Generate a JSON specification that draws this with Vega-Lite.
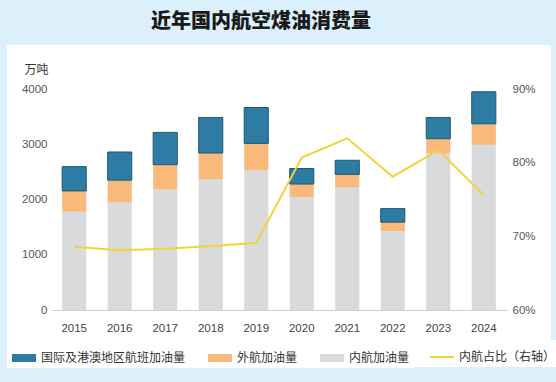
{
  "$schema": "https://vega.github.io/schema/vega-lite/v6.json",
  "width": 456,
  "height": 221,
  "autosize": {"type": "none"},
  "padding": {"left": 51, "top": 89, "right": 49, "bottom": 72},
  "background": "#dbf0fa",
  "title": {
    "text": "近年国内航空煤油消费量",
    "font": "Noto Sans CJK SC",
    "fontSize": 20,
    "fontWeight": 900,
    "color": "#1a1a1a",
    "anchor": "middle",
    "frame": "group",
    "dx": -18,
    "dy": -23,
    "offset": 8
  },
  "datasets": {
    "bars": [
      {"year": "2015", "series": "内航加油量", "value": 1780},
      {"year": "2015", "series": "外航加油量", "value": 375},
      {"year": "2015", "series": "国际及港澳地区航班加油量", "value": 440},
      {"year": "2016", "series": "内航加油量", "value": 1945},
      {"year": "2016", "series": "外航加油量", "value": 405},
      {"year": "2016", "series": "国际及港澳地区航班加油量", "value": 510},
      {"year": "2017", "series": "内航加油量", "value": 2180},
      {"year": "2017", "series": "外航加油量", "value": 450},
      {"year": "2017", "series": "国际及港澳地区航班加油量", "value": 585},
      {"year": "2018", "series": "内航加油量", "value": 2365},
      {"year": "2018", "series": "外航加油量", "value": 475},
      {"year": "2018", "series": "国际及港澳地区航班加油量", "value": 645},
      {"year": "2019", "series": "内航加油量", "value": 2530},
      {"year": "2019", "series": "外航加油量", "value": 485},
      {"year": "2019", "series": "国际及港澳地区航班加油量", "value": 650},
      {"year": "2020", "series": "内航加油量", "value": 2045},
      {"year": "2020", "series": "外航加油量", "value": 235},
      {"year": "2020", "series": "国际及港澳地区航班加油量", "value": 280},
      {"year": "2021", "series": "内航加油量", "value": 2225},
      {"year": "2021", "series": "外航加油量", "value": 230},
      {"year": "2021", "series": "国际及港澳地区航班加油量", "value": 255},
      {"year": "2022", "series": "内航加油量", "value": 1425},
      {"year": "2022", "series": "外航加油量", "value": 165},
      {"year": "2022", "series": "国际及港澳地区航班加油量", "value": 245},
      {"year": "2023", "series": "内航加油量", "value": 2840},
      {"year": "2023", "series": "外航加油量", "value": 260},
      {"year": "2023", "series": "国际及港澳地区航班加油量", "value": 385},
      {"year": "2024", "series": "内航加油量", "value": 2990},
      {"year": "2024", "series": "外航加油量", "value": 380},
      {"year": "2024", "series": "国际及港澳地区航班加油量", "value": 580}
    ],
    "share": [
      {"year": "2015", "pct": 68.6},
      {"year": "2016", "pct": 68.1},
      {"year": "2017", "pct": 68.3},
      {"year": "2018", "pct": 68.7},
      {"year": "2019", "pct": 69.1},
      {"year": "2020", "pct": 80.7},
      {"year": "2021", "pct": 83.3},
      {"year": "2022", "pct": 78.1},
      {"year": "2023", "pct": 81.7},
      {"year": "2024", "pct": 75.6}
    ]
  },
  "layer": [
    {
      "data": {"name": "bars"},
      "transform": [
        {"calculate": "indexof(['内航加油量','外航加油量','国际及港澳地区航班加油量'], datum.series)", "as": "ord"}
      ],
      "mark": {"type": "bar"},
      "encoding": {
        "x": {
          "field": "year", "type": "ordinal",
          "scale": {"paddingInner": 0.47, "paddingOuter": 0.245},
          "axis": {
            "title": null, "labelAngle": 0, "ticks": false,
            "domain": true, "domainColor": "#d0d0d0", "domainWidth": 1,
            "labelPadding": 12, "labelFontSize": 11.5, "labelColor": "#444",
            "labelFont": "Liberation Sans"
          }
        },
        "y": {
          "field": "value", "type": "quantitative", "stack": "zero",
          "scale": {"domain": [0, 4000], "nice": false},
          "axis": {
            "values": [0, 1000, 2000, 3000, 4000],
            "format": "d",
            "title": "万吨", "titleAngle": 0, "titleX": -27, "titleY": -20,
            "titleAlign": "left", "titleBaseline": "middle",
            "titleFont": "Noto Sans CJK SC", "titleFontSize": 12, "titleFontWeight": "normal", "titleColor": "#333",
            "domain": false, "ticks": false, "grid": false,
            "labelPadding": 4, "labelFontSize": 11.5, "labelColor": "#555",
            "labelFont": "Liberation Sans"
          }
        },
        "color": {
          "field": "series", "type": "nominal",
          "scale": {
            "domain": ["国际及港澳地区航班加油量", "外航加油量", "内航加油量"],
            "range": ["#2e7ca3", "#f8b97a", "#d8dadc"]
          },
          "legend": {
            "title": null,
            "orient": "none",
            "direction": "horizontal",
            "legendX": -44,
            "legendY": 252,
            "padding": 4,
            "fillColor": "white",
            "columnPadding": 21,
            "gridAlign": "none",
            "symbolType": "M-1,-0.33H1V0.33H-1Z",
            "symbolSize": 576,
            "labelOffset": 4,
            "labelFont": "Noto Sans CJK SC",
            "labelFontSize": 12,
            "labelColor": "#333",
            "labelLimit": 300
          }
        },
        "order": {"field": "ord", "type": "quantitative"},
        "stroke": {
          "condition": {"test": "datum.series === '国际及港澳地区航班加油量'", "value": "#1d5877"},
          "value": null
        },
        "strokeWidth": {"value": 1}
      }
    },
    {
      "data": {"name": "share"},
      "mark": {"type": "line", "strokeWidth": 2},
      "encoding": {
        "x": {"field": "year", "type": "ordinal"},
        "y": {
          "field": "pct", "type": "quantitative",
          "scale": {"domain": [60, 90], "nice": false},
          "axis": {
            "orient": "right", "values": [60, 70, 80, 90],
            "labelExpr": "datum.value + '%'",
            "title": null, "domain": false, "ticks": false, "grid": false,
            "labelPadding": 5, "labelFontSize": 11.5, "labelColor": "#555",
            "labelFont": "Liberation Sans"
          }
        },
        "stroke": {
          "datum": "内航占比（右轴）", "type": "nominal",
          "scale": {"domain": ["内航占比（右轴）"], "range": ["#f3d23c"]},
          "legend": {
            "title": " ",
            "titleOrient": "left",
            "titlePadding": 12,
            "titleFontSize": 12,
            "orient": "none",
            "direction": "horizontal",
            "legendX": 362,
            "legendY": 251,
            "padding": 4,
            "fillColor": "white",
            "symbolType": "M-1,0H1",
            "symbolSize": 576,
            "symbolStrokeWidth": 2,
            "labelOffset": 4,
            "labelFont": "Noto Sans CJK SC",
            "labelFontSize": 12,
            "labelColor": "#333",
            "labelLimit": 300
          }
        }
      }
    }
  ],
  "resolve": {"scale": {"y": "independent"}},
  "config": {
    "view": {"fill": "white", "stroke": "white", "strokeWidth": 88},
    "style": {"cell": {"strokeForeground": false}},
    "axis": {"grid": false}
  }
}
